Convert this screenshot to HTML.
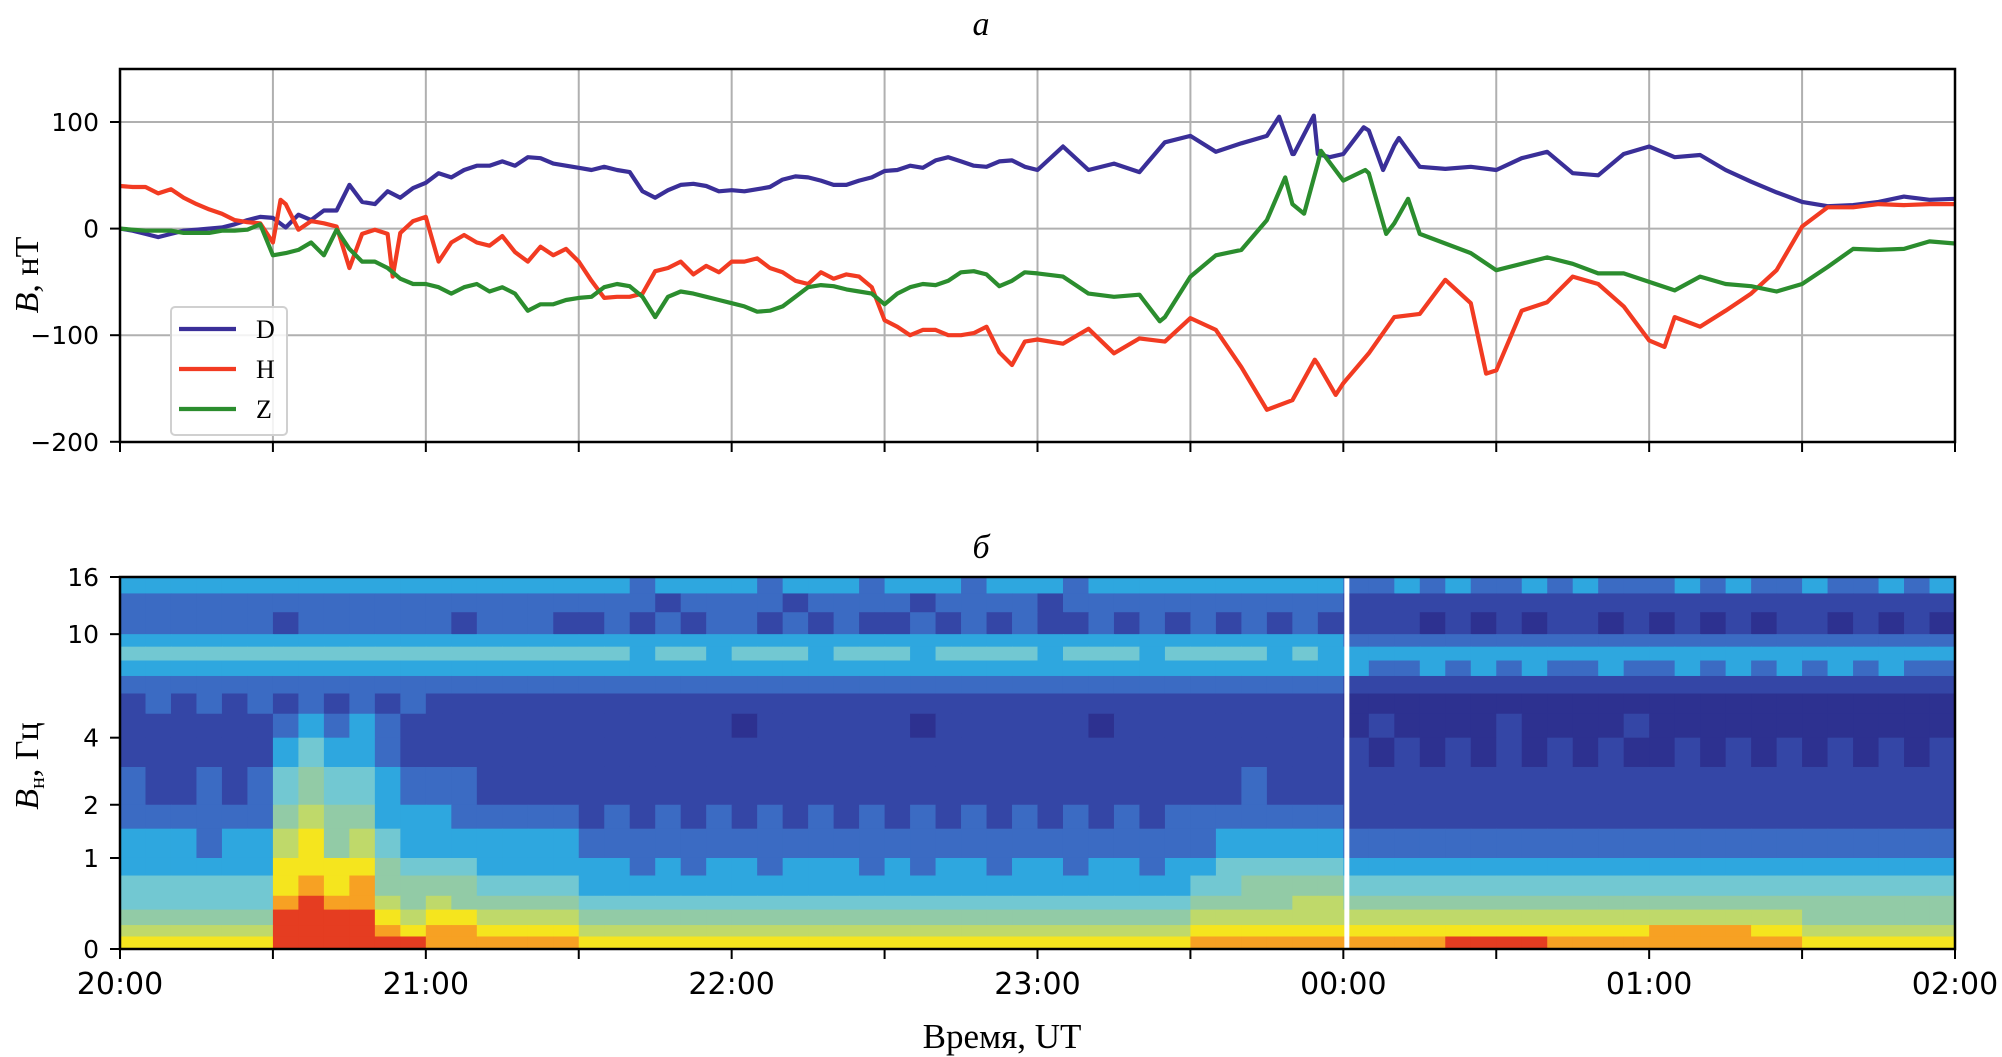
<!DOCTYPE html>
<html><head><meta charset="utf-8"><style>
html,body{margin:0;padding:0;background:#fff;}
svg{display:block;}
.tick{font-family:"DejaVu Sans","Liberation Sans",sans-serif;font-size:25px;fill:#000;}
.serif{font-family:"Liberation Serif","DejaVu Serif",serif;fill:#000;}
</style></head><body>
<svg id="fig" width="2002" height="1057" viewBox="0 0 2002 1057" xmlns="http://www.w3.org/2000/svg">
<g id="topPanel"></g>
<g id="botPanel"></g>
</svg>
<script>
// ---- Magnetogram data (minutes from 20:00, nT) ----
const timesFine = [0,2.5,5,7.5,10,12.5,15,17.5,20,22.5,25,27.5,30,32.5,35,37.5,40,42.5,45,47.5,50,52.5,55,57.5,60,62.5,65,67.5,70,72.5,75,77.5,80,82.5,85,87.5,90,92.5,95,97.5,100,102.5,105,107.5,110,112.5,115,117.5,120,122.5,125,127.5,130,132.5,135,137.5,140,142.5,145,147.5,150,152.5,155,157.5,160,162.5,165,167.5,170,172.5,175,177.5];
const timesCoarse = [180,185,190,195,200,205,210,215,220,225,230,235,240,245,250,255,260,265,270,275,280,285,290,295,300,305,310,315,320,325,330,335,340,345,350,355,360];
const dFine = [0,-2,-5,-8,-5,-2,-1,0,1,4,8,11,10,1,13,8,17,17,41,25,23,35,29,38,43,52,48,55,59,59,63,59,67,66,61,59,57,55,58,55,53,35,29,36,41,42,40,35,36,35,37,39,46,49,48,45,41,41,45,48,54,55,59,57,64,67,63,59,58,63,64,58];
const dCoarse = [55,77,55,61,53,81,87,72,80,87,70,70,70,92,78,58,56,58,55,66,72,52,50,70,77,67,69,55,44,34,25,21,22,25,30,27,28];
const dExtraT = [227.4,230.3,234.2,237.3,244,247.8,250.9];
const dExtraV = [105,70,106,67,95,55,85];
const hFine = [40,39,39,33,37,29,23,18,14,8,6,5,-13,23,-1,7,5,2,-37,-5,-1,-5,-4,7,11,-31,-13,-6,-13,-16,-7,-22,-31,-17,-25,-19,-31,-49,-65,-64,-64,-61,-40,-37,-31,-43,-35,-41,-31,-31,-28,-37,-41,-49,-52,-41,-47,-43,-45,-55,-86,-92,-100,-95,-95,-100,-100,-98,-92,-116,-128,-106];
const hCoarse = [-104,-108,-94,-117,-103,-106,-84,-95,-130,-170,-161,-127,-145,-117,-83,-80,-48,-70,-133,-77,-69,-45,-52,-73,-105,-83,-92,-77,-61,-39,2,20,20,23,22,23,23];
const hExtraT = [31.5,53.5,234.4,238.5,260,268,303];
const hExtraV = [27,-45,-123,-156,-48,-136,-111];
const zFine = [0,-1,-2,-2,-2,-4,-4,-4,-2,-2,-1,4,-25,-23,-20,-13,-25,-1,-19,-31,-31,-37,-47,-52,-52,-55,-61,-55,-52,-59,-55,-61,-77,-71,-71,-67,-65,-64,-55,-52,-54,-64,-83,-64,-59,-61,-64,-67,-70,-73,-78,-77,-73,-64,-55,-53,-54,-57,-59,-61,-71,-61,-55,-52,-53,-49,-41,-40,-43,-54,-49,-41];
const zCoarse = [-42,-45,-61,-64,-62,-83,-45,-25,-20,8,23,61,45,52,5,-5,-14,-23,-39,-33,-27,-33,-42,-42,-50,-58,-45,-52,-54,-59,-52,-36,-19,-20,-19,-12,-14];
const zExtraT = [204,228.6,232.3,235.6,244.3,248.4,252.7];
const zExtraV = [-87,48,14,73,55,-5,28];
const yTicksTop = [100,0,-100,-200];
const yTickLabelsTop = ["100","0","\u2212100","\u2212200"];
const seriesNames = ["D","H","Z"];

// ---- Spectrogram data: intensity 0-9 per 5-min column, bins top->bottom ----
const freqEdges = [16,14,12,10,9,8,7,6,5,4,3,2,1.5,1,0.75,0.5,0.35,0.2,0.1,0];
const specRows = [
"333333"+"333333"+"333333"+"332333323332333233323333"+"333333"+"223232232322"+"232322"+"322323",
"222222"+"222222"+"222222"+"222122221222212222122222"+"222222"+"111111111111"+"111111"+"111111",
"222222"+"122222"+"212221"+"121212212121121212112121"+"212121"+"111010101101"+"010101"+"101010",
"333333"+"333333"+"333333"+"333333333333333333333333"+"333333"+"222222222222"+"222222"+"222222",
"444444"+"444444"+"444444"+"443443444344434444344434"+"444343"+"333333333333"+"333333"+"333333",
"333333"+"333333"+"333333"+"333333333333333333333333"+"333333"+"322323232232"+"232323"+"232322",
"222222"+"222222"+"222222"+"222222222222222222222222"+"222222"+"111111111111"+"111111"+"111111",
"121212"+"121212"+"111111"+"111111111111111111111111"+"111111"+"000000000000"+"000000"+"000000",
"111111"+"232321"+"111111"+"111111011111101111110111"+"111111"+"010000100001"+"000000"+"000000",
"111111"+"343321"+"111111"+"111111111111111111111111"+"111111"+"101010101010"+"010101"+"010101",
"211212"+"454432"+"221111"+"111111111111111111111111"+"112111"+"111111111111"+"111111"+"111111",
"222222"+"565533"+"322222"+"121212121212121212121212"+"222222"+"111111111111"+"111111"+"111111",
"333233"+"675643"+"333333"+"222222222222222222222222"+"233333"+"222222222222"+"222222"+"222222",
"333333"+"777754"+"443333"+"332323323332323323323323"+"344444"+"333333333333"+"333333"+"333333",
"444444"+"787855"+"554444"+"333333333333333333333333"+"445555"+"444444444444"+"444444"+"444444",
"444444"+"898865"+"655555"+"444444444444444444444444"+"555566"+"555555555555"+"555555"+"555555",
"555555"+"999976"+"776666"+"555555555555555555555555"+"666666"+"666666666666"+"666666"+"555555",
"666666"+"999987"+"887777"+"666666666666666666666666"+"777777"+"777777777777"+"888877"+"666666",
"777777"+"999999"+"888888"+"777777777777777777777777"+"888888"+"888899998888"+"888888"+"777777"
];
const yTicksBot = [16,10,4,2,1,0];
const xTickLabels = ["20:00","21:00","22:00","23:00","00:00","01:00","02:00"];

const NS="http://www.w3.org/2000/svg";
function mk(tag, attrs, parent){const e=document.createElementNS(NS,tag);for(const k in attrs)e.setAttribute(k,attrs[k]);parent.appendChild(e);return e;}
const X0=120, X1=1955;
const xs = t => X0 + t/360*(X1-X0);
const yTop = v => 228.6 - 1.066*v;
const T0=69, T1=442;
const B0=577, B1=949;
const yBot = f => B1 - (B1-B0)*Math.log(1+f)/Math.log(17);

const topG=document.getElementById('topPanel');
const botG=document.getElementById('botPanel');

let t=mk('text',{x:981,y:35,'text-anchor':'middle','font-size':34,'font-style':'italic',class:'serif'},topG);
t.textContent='а';



for(let i=1;i<12;i++){
  const l=mk('line',{x1:xs(i*30),x2:xs(i*30),y1:T0,y2:T1,stroke:'#b0b0b0','stroke-width':2},topG);
  
  
}
yTicksTop.forEach((v,i)=>{
  if(v>-200){
    const g=mk('line',{x1:X0,x2:X1,y1:yTop(v),y2:yTop(v),stroke:'#b0b0b0','stroke-width':2},topG);
    
    
  }
  const tk=mk('line',{x1:X0-10,x2:X0,y1:yTop(v),y2:yTop(v),stroke:'#000','stroke-width':2},topG);
  
  
  const lb=mk('text',{x:99,y:yTop(v)+9,'text-anchor':'end',class:'tick'},topG);
  lb.textContent=yTickLabelsTop[i];
  
  
});
for(let i=0;i<=12;i++){
  const tk=mk('line',{x1:xs(i*30),x2:xs(i*30),y1:T1,y2:T1+10,stroke:'#000','stroke-width':2},topG);
  
  
}

function series(ft,fv,ct,cv,et,ev){
  const pts=[];
  ft.forEach((x,i)=>pts.push([x,fv[i]]));
  ct.forEach((x,i)=>pts.push([x,cv[i]]));
  et.forEach((x,i)=>pts.push([x,ev[i]]));
  pts.sort((a,b)=>a[0]-b[0]);
  return pts.map(p=>xs(p[0]).toFixed(1)+','+yTop(p[1]).toFixed(1)).join(' ');
}
const colors={D:'#3a2f98',H:'#f23b22',Z:'#2b8d2e'};
const seriesPts={
  D:series(timesFine,dFine,timesCoarse,dCoarse,dExtraT,dExtraV),
  H:series(timesFine,hFine,timesCoarse,hCoarse,hExtraT,hExtraV),
  Z:series(timesFine,zFine,timesCoarse,zCoarse,zExtraT,zExtraV)
};
["D","H","Z"].forEach(n=>{
  const p=mk('polyline',{points:seriesPts[n],fill:'none',stroke:colors[n],'stroke-width':4.2,'stroke-linejoin':'round'},topG);
  
  
});
const frameT=mk('rect',{x:X0,y:T0,width:X1-X0,height:T1-T0,fill:'none',stroke:'#000','stroke-width':2.5},topG);



const lg=mk('g',{},topG);


mk('rect',{x:171,y:307,width:116,height:128,rx:4,fill:'#fff','fill-opacity':0.85,stroke:'#d0d0d0','stroke-width':2},lg);
seriesNames.forEach((n,i)=>{
  const yy=329+i*40;
  const e=mk('g',{},lg);
  
  
  mk('line',{x1:179,x2:236,y1:yy,y2:yy,stroke:colors[n],'stroke-width':4.2},e);
  const tx=mk('text',{x:256,y:yy+9,'font-size':26,class:'serif'},e);
  tx.textContent=n;
});

const yl=mk('text',{transform:'translate(38,275) rotate(-90)','text-anchor':'middle','font-size':34,class:'serif'},topG);
yl.innerHTML='<tspan font-style="italic">B</tspan>, нТ';



t=mk('text',{x:981,y:558,'text-anchor':'middle','font-size':34,'font-style':'italic',class:'serif'},botG);
t.textContent='б';



const cmap=['#2d3190','#3446a6','#3b6bc3','#2ea7df','#72c8d2','#92cba6','#bfd96a','#f5e51e','#f7a123','#e53d21'];
const nCols=specRows[0].length;
const colW=(X1-X0)/nCols;
specRows.forEach((row,r)=>{
  const y0=yBot(freqEdges[r]), y1=yBot(freqEdges[r+1]);
  for(let c=0;c<nCols;c++){
    const v=+row[c];
    const cell=mk('rect',{x:(X0+c*colW).toFixed(2),y:y0.toFixed(2),width:(colW+0.6).toFixed(2),height:(y1-y0+0.6).toFixed(2),fill:cmap[v]},botG);
    
    
  }
});
const gap=mk('rect',{x:xs(240)+1,y:B0,width:5,height:B1-B0,fill:'#fff'},botG);


const frameB=mk('rect',{x:X0,y:B0,width:X1-X0,height:B1-B0,fill:'none',stroke:'#000','stroke-width':2.5},botG);


yTicksBot.forEach(f=>{
  const tk=mk('line',{x1:X0-10,x2:X0,y1:yBot(f),y2:yBot(f),stroke:'#000','stroke-width':2},botG);
  
  
  const lb=mk('text',{x:99,y:yBot(f)+9,'text-anchor':'end',class:'tick'},botG);
  lb.textContent=String(f);
  
  
});
for(let i=0;i<=12;i++){
  const tk=mk('line',{x1:xs(i*30),x2:xs(i*30),y1:B1,y2:B1+10,stroke:'#000','stroke-width':2},botG);
  
  
}
xTickLabels.forEach((s,i)=>{
  const lb=mk('text',{x:xs(i*60),y:994,'text-anchor':'middle',class:'tick'},botG);
  lb.style.fontSize='30px';
  lb.textContent=s;
  
  
});
const yl2=mk('text',{transform:'translate(38,766) rotate(-90)','text-anchor':'middle','font-size':34,class:'serif'},botG);
yl2.innerHTML='<tspan font-style="italic">B</tspan><tspan font-size="22" dy="6">н</tspan><tspan dy="-6">, Гц</tspan>';


const xl=mk('text',{x:1002,y:1048,'text-anchor':'middle','font-size':35,class:'serif'},botG);
xl.textContent='Время, UT';


</script>
</body></html>
